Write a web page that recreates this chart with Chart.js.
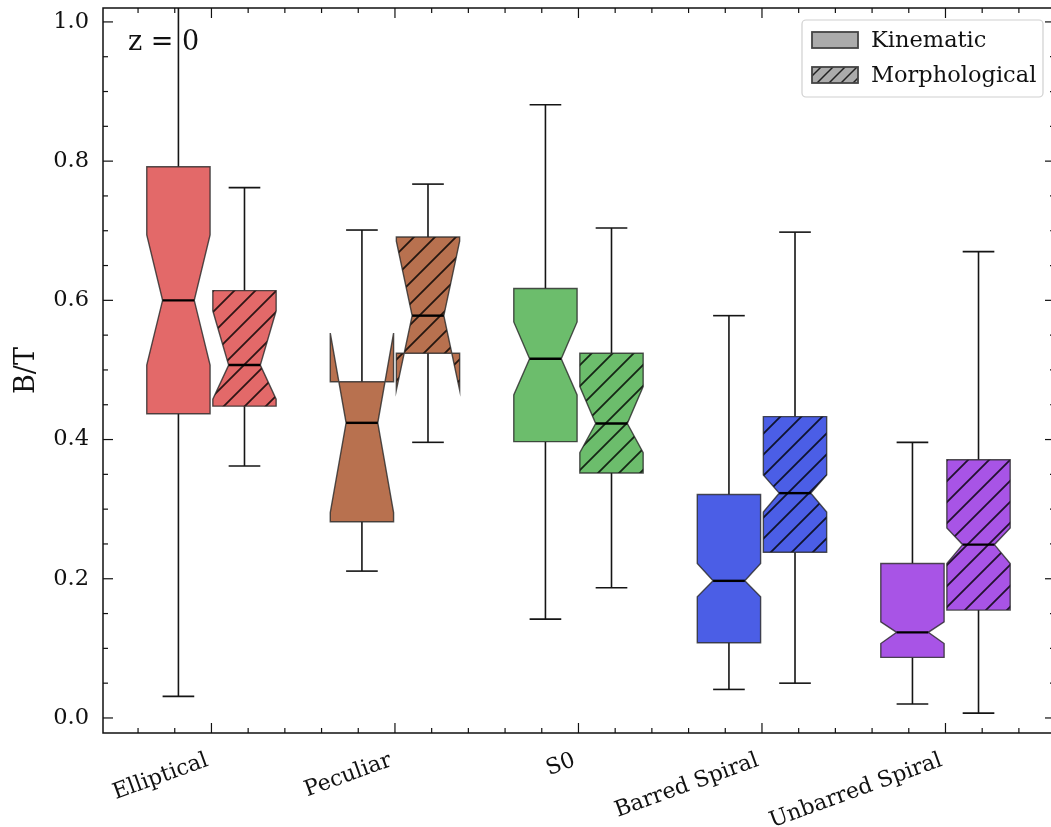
<!DOCTYPE html>
<html>
<head>
<meta charset="utf-8">
<script src="https://cdn.jsdelivr.net/npm/chart.js@4/dist/chart.umd.min.js"></script>
<style>
  html, body { margin: 0; padding: 0; background: #fff; overflow: hidden; }
  #wrap { width: 1051px; height: 827px; }
  #boxChart { display: block; }
</style>
</head>
<body>
<div id="wrap"><canvas id="boxChart"></canvas></div>
<script>
// categories and colours
const categories = ['Elliptical', 'Peculiar', 'S0', 'Barred Spiral', 'Unbarred Spiral'];
const boxColors = ['#E36969', '#B8714F', '#6CBD6C', '#4B5EE6', '#A854E6'];

// Kinematic B/T
const kinWhiskerLo = [0.031, 0.211, 0.142, 0.041, 0.020];
const kinQ1        = [0.437, 0.282, 0.397, 0.108, 0.087];
const kinNotchLo   = [0.507, 0.295, 0.464, 0.174, 0.107];
const kinMedian    = [0.600, 0.424, 0.516, 0.197, 0.123];
const kinNotchHi   = [0.694, 0.553, 0.569, 0.222, 0.138];
const kinQ3        = [0.792, 0.483, 0.617, 0.321, 0.222];
const kinWhiskerHi = [1.060, 0.701, 0.881, 0.578, 0.396];

// Morphological B/T
const morWhiskerLo = [0.362, 0.396, 0.187, 0.050, 0.007];
const morQ1        = [0.448, 0.524, 0.352, 0.238, 0.155];
const morNotchLo   = [0.458, 0.471, 0.381, 0.296, 0.222];
const morMedian    = [0.507, 0.578, 0.423, 0.323, 0.249];
const morNotchHi   = [0.585, 0.685, 0.476, 0.349, 0.273];
const morQ3        = [0.614, 0.691, 0.524, 0.433, 0.371];
const morWhiskerHi = [0.762, 0.767, 0.704, 0.698, 0.670];

const yTicks = [0.0, 0.2, 0.4, 0.6, 0.8, 1.0];

const FONT = 'DejaVu Serif';
const BOX_WIDTH = 0.345;
const OFFSET = 0.18;

function makeHatch(ctx, size, color, lw) {
    const c = document.createElement('canvas');
    c.width = size; c.height = size;
    const g = c.getContext('2d');
    g.strokeStyle = color;
    g.lineWidth = lw;
    g.beginPath();
    g.moveTo(0, size); g.lineTo(size, 0);
    g.moveTo(-size / 2, size / 2); g.lineTo(size / 2, -size / 2);
    g.moveTo(size / 2, size * 1.5); g.lineTo(size * 1.5, size / 2);
    g.stroke();
    return ctx.createPattern(c, 'repeat');
}

function line(ctx, x1, y1, x2, y2) {
    ctx.beginPath();
    ctx.moveTo(x1, y1);
    ctx.lineTo(x2, y2);
    ctx.stroke();
}

function drawBox(ctx, x, y, pos, s, i, color, hatch) {
    const xc = x.getPixelForValue(pos);
    const half = x.getPixelForValue(pos + BOX_WIDTH / 2) - xc;
    const L = xc - half, R = xc + half, cl = xc - half / 2, cr = xc + half / 2;
    const py = v => y.getPixelForValue(v);

    // whiskers and caps
    ctx.strokeStyle = '#151515';
    ctx.lineWidth = 1.6;
    line(ctx, xc, py(s.q1[i]), xc, py(s.wlo[i]));
    line(ctx, xc, py(s.q3[i]), xc, py(s.whi[i]));
    line(ctx, cl, py(s.wlo[i]), cr, py(s.wlo[i]));
    line(ctx, cl, py(s.whi[i]), cr, py(s.whi[i]));

    // notched box
    ctx.beginPath();
    ctx.moveTo(L, py(s.q1[i]));
    ctx.lineTo(L, py(s.nlo[i]));
    ctx.lineTo(cl, py(s.med[i]));
    ctx.lineTo(L, py(s.nhi[i]));
    ctx.lineTo(L, py(s.q3[i]));
    ctx.lineTo(R, py(s.q3[i]));
    ctx.lineTo(R, py(s.nhi[i]));
    ctx.lineTo(cr, py(s.med[i]));
    ctx.lineTo(R, py(s.nlo[i]));
    ctx.lineTo(R, py(s.q1[i]));
    ctx.closePath();
    ctx.fillStyle = color;
    ctx.fill();
    if (hatch) {
        ctx.fillStyle = hatch;
        ctx.fill();
    }
    ctx.strokeStyle = 'rgba(40,40,40,0.8)';
    ctx.lineWidth = 1.4;
    ctx.stroke();

    // median
    ctx.strokeStyle = '#000';
    ctx.lineWidth = 2.4;
    line(ctx, cl, py(s.med[i]), cr, py(s.med[i]));
}

const kin = { wlo: kinWhiskerLo, q1: kinQ1, nlo: kinNotchLo, med: kinMedian, nhi: kinNotchHi, q3: kinQ3, whi: kinWhiskerHi };
const mor = { wlo: morWhiskerLo, q1: morQ1, nlo: morNotchLo, med: morMedian, nhi: morNotchHi, q3: morQ3, whi: morWhiskerHi };

const boxPlugin = {
    id: 'notchedBoxes',
    afterDatasetsDraw(chart) {
        const { ctx, chartArea: a, scales: { x, y } } = chart;
        const boxHatch = makeHatch(ctx, 21, 'rgba(0,0,0,0.8)', 1.8);
        const legendHatch = makeHatch(ctx, 12, 'rgba(0,0,0,0.8)', 1.5);

        ctx.save();
        ctx.beginPath();
        ctx.rect(a.left, a.top, a.right - a.left, a.bottom - a.top);
        ctx.clip();
        categories.forEach((c, i) => {
            drawBox(ctx, x, y, i + 1 - OFFSET, kin, i, boxColors[i], null);
            drawBox(ctx, x, y, i + 1 + OFFSET, mor, i, boxColors[i], boxHatch);
        });
        ctx.restore();

        // spines: left, top, bottom; the right one lies past the cropped edge
        const right = chart.width + 4;
        ctx.save();
        ctx.strokeStyle = '#111';
        ctx.lineWidth = 1.5;
        ctx.beginPath();
        ctx.moveTo(chart.width, a.top);
        ctx.lineTo(a.left, a.top);
        ctx.lineTo(a.left, a.bottom);
        ctx.lineTo(chart.width, a.bottom);
        ctx.stroke();

        // inward ticks on all four sides
        ctx.lineWidth = 1.2;
        const yMinor = [];
        for (let k = 0; k <= 20; k++) if (k % 4 !== 0) yMinor.push(k * 0.05);
        yTicks.forEach(v => {
            const p = y.getPixelForValue(v);
            line(ctx, a.left, p, a.left + 10, p);
            line(ctx, right, p, right - 10, p);
        });
        yMinor.forEach(v => {
            const p = y.getPixelForValue(v);
            line(ctx, a.left, p, a.left + 5, p);
            line(ctx, right, p, right - 5, p);
        });
        for (let k = 3; k <= 27; k++) {
            const v = k * 0.2;
            const p = x.getPixelForValue(v);
            const len = (k % 5 === 0) ? 10 : 5;
            line(ctx, p, a.bottom, p, a.bottom - len);
            line(ctx, p, a.top, p, a.top + len);
        }

        // redshift label
        ctx.fillStyle = '#111';
        ctx.font = '27px "' + FONT + '"';
        ctx.textBaseline = 'middle';
        ctx.textAlign = 'left';
        ctx.fillText('z = 0', 128, 43);

        // legend
        const lx = 802, ly = 20, lw = 241, lh = 77;
        ctx.beginPath();
        ctx.roundRect(lx, ly, lw, lh, 4);
        ctx.fillStyle = 'rgba(255,255,255,0.85)';
        ctx.fill();
        ctx.strokeStyle = '#d0d0d0';
        ctx.lineWidth = 1.2;
        ctx.stroke();

        [['Kinematic', null, 40], ['Morphological', legendHatch, 75]].forEach(([label, h, cy]) => {
            ctx.fillStyle = '#ababab';
            ctx.fillRect(812, cy - 8, 46, 16);
            if (h) { ctx.fillStyle = h; ctx.fillRect(812, cy - 8, 46, 16); }
            ctx.strokeStyle = '#444';
            ctx.lineWidth = 1.8;
            ctx.strokeRect(812, cy - 8, 46, 16);
            ctx.fillStyle = '#111';
            ctx.font = '22.5px "' + FONT + '"';
            ctx.fillText(label, 871, cy + 1);
        });
        ctx.restore();
    }
};

new Chart(document.getElementById('boxChart'), {
    type: 'scatter',
    data: { datasets: [] },
    options: {
        responsive: true,
        maintainAspectRatio: false,
        animation: false,
        devicePixelRatio: 1,
        layout: { padding: { top: 8, right: 0, left: 0, bottom: 0 } },
        plugins: { legend: { display: false }, tooltip: { enabled: false } },
        scales: {
            x: {
                type: 'linear',
                min: 0.409,
                max: 5.575,
                afterBuildTicks: scale => { scale.ticks = categories.map((c, i) => ({ value: i + 1 })); },
                afterFit: scale => {
                    scale.height = 94;
                    scale.paddingLeft = 0;
                    scale.paddingRight = 0;
                },
                grid: { display: false },
                border: { display: false },
                ticks: {
                    autoSkip: false,
                    minRotation: 20,
                    maxRotation: 20,
                    padding: 5,
                    color: '#111',
                    font: { family: FONT, size: 22 },
                    // thin trailing space nudges the rotated label's end onto the tick
                    callback: v => categories[Math.round(v) - 1] + '\u2009'
                }
            },
            y: {
                type: 'linear',
                min: -0.0216,
                max: 1.020,
                afterBuildTicks: scale => { scale.ticks = yTicks.map(v => ({ value: v })); },
                afterFit: scale => {
                    scale.width = 103;
                    scale.paddingTop = 0;
                    scale.paddingBottom = 0;
                },
                grid: { display: false },
                border: { display: false },
                title: {
                    display: true,
                    text: 'B/T',
                    color: '#111',
                    font: { family: FONT, size: 27 },
                    padding: { top: 11, bottom: 0 }
                },
                ticks: {
                    padding: 6,
                    color: '#111',
                    font: { family: FONT, size: 22.5 },
                    callback: v => v.toFixed(1)
                }
            }
        }
    },
    plugins: [boxPlugin]
});
</script>
</body>
</html>
